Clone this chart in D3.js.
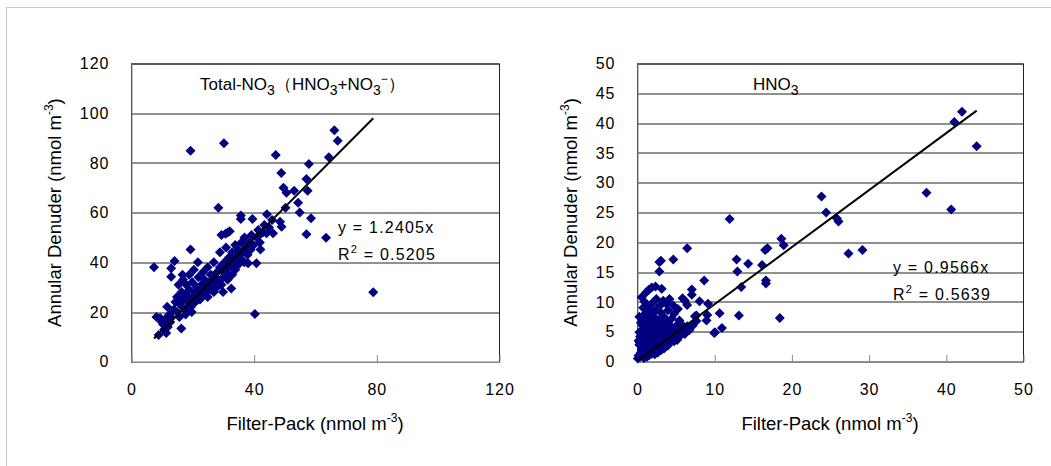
<!DOCTYPE html>
<html>
<head>
<meta charset="utf-8">
<script src="https://cdn.jsdelivr.net/npm/d3@7/dist/d3.min.js"></script>
<style>
  body { margin: 0; background: #fff; }
  text { font-family: "Liberation Sans", Arial, sans-serif; fill: #000; }
</style>
</head>
<body>
<div id="chartPlaceholder"></div>
<script>
// Total-NO3: [filter-pack, denuder]
const totalPoints = [
  [7.5, 38], [8.3, 18], [9.5, 17.6], [9, 10.7], [10, 16], [10.5, 15], [11, 17], [11.8, 22.1], [12, 14], [12.5, 19],
  [13, 18], [13.1, 37.6], [13.1, 34.2], [14.2, 40.5], [14, 21], [14.5, 24], [15, 20], [15, 26], [15.5, 31], [16.4, 13.4],
  [16, 23], [16.5, 28], [17, 25], [17, 33], [17.5, 21], [18, 27], [18, 31], [18.5, 24], [19, 29], [19, 35],
  [19.4, 45.2], [19.5, 22], [20, 26], [20, 32], [20.5, 37], [21, 28], [21, 24], [21.5, 30], [22, 34], [22, 27],
  [22.5, 25], [23, 31], [23, 29], [23.5, 36], [24, 27], [24, 33], [24.5, 30], [25, 38], [25, 26], [25.5, 32],
  [26, 29], [26, 35], [26.5, 31], [27, 28], [27, 40], [27.5, 34], [28, 30], [28, 36], [28.5, 32], [28.5, 62],
  [29, 38], [29, 44], [29.5, 31], [29.5, 51], [30, 34], [30, 28], [30.3, 87.9], [30.5, 40], [31, 36], [31, 46],
  [31.5, 33], [31.5, 52], [32, 38], [32, 42], [32.7, 29.5], [33, 35], [33, 44], [33.5, 40], [34, 37], [34, 47],
  [34.5, 42], [35, 39], [35, 45], [35.8, 58.8], [35.8, 57.4], [36, 41], [36, 48], [36.5, 44], [37, 40], [37, 50],
  [37.5, 46], [38, 43], [38.2, 39.6], [38.5, 48], [39, 45], [39.3, 51], [39.6, 57.4], [40, 47], [40.4, 19.2], [40.9, 39.6],
  [41, 50], [41.5, 53], [42, 48], [42.2, 45.2], [43, 52], [43.5, 55], [44.2, 51.7], [44.3, 59.3], [45, 54], [46.3, 51.7],
  [46, 57], [47.2, 83.2], [48.6, 56.3], [49.1, 54.3], [49, 75.9], [49.7, 70], [50.4, 62], [50.7, 68], [53.2, 68.8], [54.5, 64],
  [55, 60], [57.2, 73.5], [57.2, 51.3], [57.6, 68.8], [58, 79.6], [58.7, 57.7], [63.6, 49.9], [64.5, 82.3], [66.3, 93.1], [67.4, 88.9],
  [79, 27.9], [19.4, 84.9], [10.8, 13], [11.5, 11.5], [12.8, 16], [15.8, 18], [17.8, 19], [19.8, 20], [21.5, 26], [24.8, 28.5],
  [26.8, 33], [29.8, 36.5], [32.5, 40], [35.5, 43], [38.8, 47.5], [41.8, 51], [30.8, 51.5], [32.2, 52.5], [21.8, 40], [16.8, 35]
];

// HNO3: [filter-pack, denuder]
const hno3Points = [
  [42.1, 41.9], [41.1, 40.2], [44, 36.1], [37.5, 28.3], [40.7, 25.5], [23.9, 27.7], [24.5, 25], [25.9, 24], [26.1, 23.5], [27.4, 18.1],
  [29.2, 18.7], [12, 23.9], [18.7, 20.6], [19, 19.5], [16.6, 18.7], [16.9, 19], [6.5, 19], [3.1, 16.9], [4.7, 17.1], [2.9, 15.1],
  [12.9, 17.1], [14.4, 16.4], [16.2, 16.2], [13, 15.1], [16.7, 13.6], [16.7, 13.1], [8.7, 13.6], [13.5, 12.5], [7.1, 12.1], [7.1, 11.2],
  [5.9, 10.6], [6.2, 10.2], [8.1, 10.1], [9.2, 9.7], [6.5, 9.5], [10.7, 8.1], [7.5, 7.6], [9.1, 7.8], [13.2, 7.7], [18.5, 7.3],
  [11, 5.6], [10, 4.8], [7.7, 6.8], [5.5, 6.9], [5.1, 6], [4.5, 4.1], [0.6, 10.8], [1.2, 11.6], [1.9, 12.4], [2.4, 12.6],
  [3.2, 12.2], [1.5, 12], [3.4, 10.2], [3.8, 9.7], [4, 8.6], [4.2, 10.5], [4.7, 9.4], [2.9, 16.7], [9, 6.9], [7.7, 7.7],
  [0.2, 3.5], [0.3, 2.8], [0.4, 4.2], [0.5, 1.5], [0.5, 3.1], [0.6, 5.2], [0.7, 2.2], [0.7, 6.1], [0.8, 3.8], [0.8, 4.6],
  [0.9, 1.2], [0.9, 7.2], [1.0, 2.9], [1.0, 5.5], [1.1, 3.3], [1.1, 8.1], [1.2, 1.8], [1.2, 4.1], [1.3, 6.6], [1.3, 2.5],
  [1.4, 3.6], [1.4, 5.0], [1.5, 7.8], [1.5, 1.4], [1.6, 4.4], [1.6, 2.2], [1.7, 6.0], [1.7, 3.2], [1.8, 8.6], [1.8, 5.3],
  [1.9, 2.7], [1.9, 4.0], [2.0, 6.9], [2.0, 1.9], [2.1, 3.5], [2.1, 5.7], [2.2, 4.7], [2.2, 2.4], [2.3, 7.4], [2.3, 3.0],
  [2.4, 6.3], [2.4, 1.6], [2.5, 4.2], [2.5, 5.2], [2.6, 2.8], [2.6, 8.9], [2.7, 3.7], [2.7, 6.7], [2.8, 4.9], [2.8, 2.1],
  [2.9, 5.8], [2.9, 3.3], [3.0, 7.1], [3.0, 2.6], [3.1, 4.4], [3.1, 8.2], [3.2, 3.0], [3.2, 5.5], [3.3, 6.4], [3.3, 2.3],
  [3.4, 4.0], [3.4, 7.6], [3.5, 3.5], [3.5, 5.0], [3.6, 2.9], [3.6, 6.0], [3.7, 4.6], [3.8, 3.3], [3.8, 7.0], [3.9, 5.4],
  [4.0, 4.1], [4.1, 3.0], [4.1, 6.3], [4.2, 3.8], [4.3, 5.0], [4.4, 4.4], [4.6, 5.6], [4.8, 3.4], [5.0, 4.8], [5.2, 3.6],
  [5.4, 5.2], [5.6, 4.3], [5.8, 6.2], [6.0, 5.1], [6.2, 4.6], [6.5, 5.9], [6.8, 5.3], [7.2, 6.0], [0.1, 0.5], [0.2, 1.0],
  [0.3, 4.9], [0.4, 0.8], [0.6, 2.0], [0.9, 0.6], [1.1, 1.0], [1.3, 0.8], [1.6, 1.1], [1.9, 1.3], [2.3, 1.2], [2.7, 1.5],
  [3.1, 1.9], [3.5, 2.2], [4.0, 2.7], [0.5, 6.5], [0.8, 9.0], [1.0, 10.0], [1.4, 9.3], [2.0, 9.8], [2.5, 10.5], [3.0, 9.4],
  [1.2, 7.0], [0.3, 7.5], [2.2, 8.3], [4.5, 7.2], [4.8, 8.0], [5.3, 8.8], [3.4, 2.4], [2.5, 1.6], [0.35, 3.2], [10.1, 4.9]
];

const totalTicksX = [0, 40, 80, 120];
const totalTicksY = [0, 20, 40, 60, 80, 100, 120];
const hno3TicksX = [0, 10, 20, 30, 40, 50];
const hno3TicksY = [0, 5, 10, 15, 20, 25, 30, 35, 40, 45, 50];

const totalSlope = 1.2405;
const totalR2 = "0.5205";
const hno3Slope = 0.9566;
const hno3R2 = "0.5639";

const svg = d3
  .select("#chartPlaceholder")
  .append("svg")
  .attr("width", 1051)
  .attr("height", 466);

// outer frame of the pasted picture
svg
  .append("rect")
  .attr("x", 6.5)
  .attr("y", 7.5)
  .attr("width", 1100)
  .attr("height", 500)
  .attr("fill", "none")
  .attr("stroke", "#c8c8c8");

function composePanel(opts) {
  const { left, top, width, height } = opts;
  const g = svg.append("g").attr("transform", `translate(${left}, ${top})`);

  const x = d3.scaleLinear().domain([0, opts.xMax]).range([0, width]);
  const y = d3.scaleLinear().domain([0, opts.yMax]).range([height, 0]);

  // gridlines
  g.append("g")
    .selectAll("line")
    .data(opts.yTicks.filter((d) => d > 0))
    .join("line")
    .attr("x1", 0)
    .attr("x2", width)
    .attr("y1", (d) => Math.round(y(d)) + 0.5)
    .attr("y2", (d) => Math.round(y(d)) + 0.5)
    .attr("stroke", "#222");

  // plot area border
  g.append("rect")
    .attr("x", 0.5)
    .attr("y", Math.round(y(opts.yMax)) + 0.5)
    .attr("width", width)
    .attr("height", height)
    .attr("fill", "none")
    .attr("stroke", "#222");

  // x axis: ticks pointing inside, labels below
  const xAxis = g
    .append("g")
    .attr("transform", `translate(0.5, ${Math.round(height) + 0.5})`)
    .call(d3.axisBottom(x).tickValues(opts.xTicks).tickSizeInner(-7).tickSizeOuter(0).tickPadding(22));
  xAxis.select(".domain").attr("stroke", "#888");
  xAxis.selectAll(".tick line").attr("stroke", "#888");
  xAxis
    .selectAll(".tick text")
    .style("font-size", "16px")
    .style("letter-spacing", "1px")
    .attr("font-family", null);

  // y axis: labels only
  const yAxis = g
    .append("g")
    .attr("transform", "translate(0.5, 0)")
    .call(d3.axisLeft(y).tickValues(opts.yTicks).tickSize(0).tickPadding(22));
  yAxis.select(".domain").attr("stroke", "#888");
  yAxis
    .selectAll(".tick text")
    .style("font-size", "16px")
    .style("letter-spacing", "1px")
    .attr("font-family", null);

  // points
  g.append("g")
    .selectAll("path")
    .data(opts.points)
    .join("path")
    .attr("d", d3.symbol(d3.symbolSquare, 50))
    .attr("transform", (d) => `translate(${x(d[0])}, ${y(d[1])}) rotate(45)`)
    .attr("fill", "#000080");

  // trend line through origin, over the data range
  const xs = opts.points.map((d) => d[0]);
  const fitX = [opts.fitFromZero ? 0 : d3.min(xs), d3.max(xs)];
  g.append("line")
    .attr("x1", x(fitX[0]))
    .attr("y1", y(fitX[0] * opts.slope))
    .attr("x2", x(fitX[1]))
    .attr("y2", y(fitX[1] * opts.slope))
    .attr("stroke", "#000")
    .attr("stroke-width", 2);

  // panel title with subscripts
  const title = g
    .append("text")
    .attr("x", opts.titlePos[0])
    .attr("y", opts.titlePos[1])
    .style("font-size", "17px");
  opts.title.forEach((part) => {
    const t = title.append("tspan").text(part.t);
    if (part.sub) t.attr("dy", 5).style("font-size", "14px");
    if (part.sup) t.attr("dy", -12).style("font-size", "12px");
    if (part.back) t.attr("dy", part.back);
  });

  // regression equation
  const eq = g
    .append("text")
    .attr("x", opts.eqPos[0])
    .attr("y", opts.eqPos[1])
    .style("font-size", "16px")
    .style("letter-spacing", "1.2px");
  eq.append("tspan").text(`y = ${opts.slope.toFixed(4)}x`);
  const r2 = g
    .append("text")
    .attr("x", opts.eqPos[0])
    .attr("y", opts.eqPos[1] + 27)
    .style("font-size", "16px")
    .style("letter-spacing", "1.2px");
  r2.append("tspan").text("R");
  r2.append("tspan").attr("dy", -7).style("font-size", "11px").text("2");
  r2.append("tspan").attr("dy", 7).text(` = ${opts.r2}`);

  // x axis title
  const xt = g
    .append("text")
    .attr("x", width / 2)
    .attr("y", height + 68)
    .attr("text-anchor", "middle")
    .style("font-size", "18.5px");
  xt.append("tspan").text("Filter-Pack (nmol m");
  xt.append("tspan").attr("dy", -8).style("font-size", "12px").text("-3");
  xt.append("tspan").attr("dy", 8).text(")");

  // y axis title
  const yt = g
    .append("text")
    .attr("transform", `translate(${opts.yTitleX}, ${height / 2}) rotate(-90)`)
    .attr("text-anchor", "middle")
    .style("font-size", "18.5px");
  yt.append("tspan").text("Annular Denuder (nmol m");
  yt.append("tspan").attr("dy", -8).style("font-size", "12px").text("-3");
  yt.append("tspan").attr("dy", 8).text(")");
}

composePanel({
  left: 131,
  top: 63.5,
  width: 368,
  height: 298.2,
  xMax: 120,
  yMax: 120,
  xTicks: totalTicksX,
  yTicks: totalTicksY,
  points: totalPoints,
  slope: totalSlope,
  r2: totalR2,
  fitFromZero: false,
  title: [
    { t: "Total-NO" },
    { t: "3", sub: true },
    { t: "（HNO", back: -5 },
    { t: "3", sub: true },
    { t: "+NO", back: -5 },
    { t: "3", sub: true },
    { t: "−", sup: true },
    { t: "）", back: 7 },
  ],
  titlePos: [69, 26.5],
  eqPos: [207, 169],
  yTitleX: -70,
});

composePanel({
  left: 637,
  top: 63.5,
  width: 386,
  height: 298,
  xMax: 50,
  yMax: 50,
  xTicks: hno3TicksX,
  yTicks: hno3TicksY,
  points: hno3Points,
  slope: hno3Slope,
  r2: hno3R2,
  fitFromZero: true,
  title: [{ t: "HNO" }, { t: "3", sub: true }],
  titlePos: [116, 26],
  eqPos: [256, 209],
  yTitleX: -60,
});
</script>
</body>
</html>
